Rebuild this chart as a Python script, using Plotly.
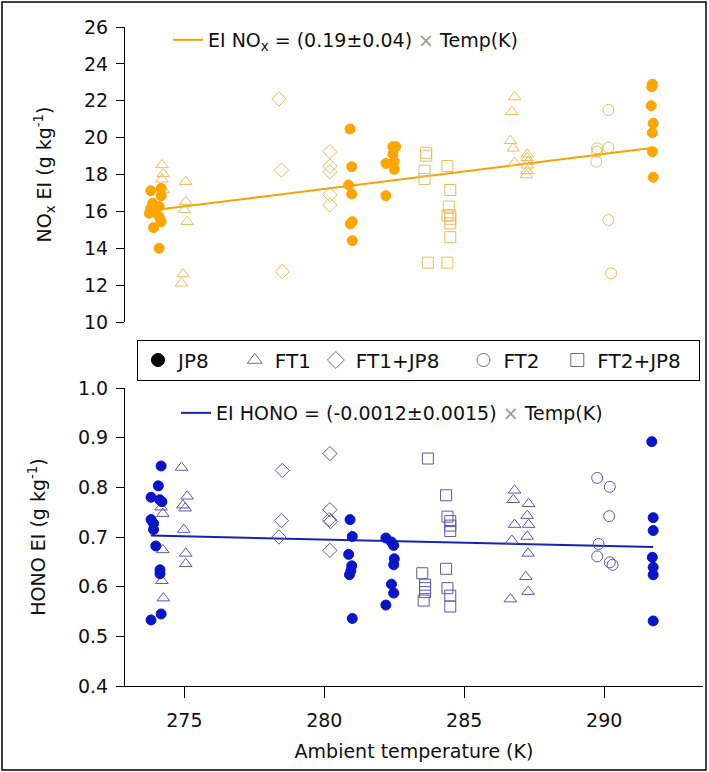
import plotly.graph_objects as go

# ---------------- data ----------------
# NOx EI (g/kg) vs ambient temperature (K)
nox_jp8_t = [273.80, 274.17, 274.17, 273.87, 274.10, 273.80, 273.75, 273.93, 274.10, 274.17, 273.90, 274.10,
             280.92, 280.98, 280.87, 280.98, 280.93, 281.00, 281.00,
             282.45, 282.55, 282.45, 282.50, 282.20, 282.50, 282.20,
             291.72, 291.70, 291.68, 291.75, 291.72, 291.72, 291.75]
nox_jp8_v = [17.12, 17.25, 16.85, 16.44, 16.26, 16.17, 15.90, 15.98, 15.71, 15.44, 15.12, 14.00,
             20.47, 18.42, 17.43, 16.94, 15.32, 15.44, 14.41,
             19.51, 19.51, 19.11, 18.70, 18.60, 18.28, 16.85,
             22.90, 22.76, 21.73, 20.78, 20.27, 19.24, 17.85]
nox_ft1_t = [274.20, 274.25, 274.20, 274.25, 275.05, 275.05, 275.00, 275.10, 274.95, 274.90,
             286.80, 286.70, 286.65, 286.75, 286.80, 287.25, 287.25, 287.28, 287.25, 287.25, 287.22]
nox_ft1_v = [18.52, 18.03, 17.74, 17.16, 17.61, 16.53, 16.08, 15.44, 12.60, 12.10,
             22.20, 21.40, 19.83, 19.42, 18.64, 19.10, 18.90, 18.70, 18.50, 18.20, 17.97]
nox_ft1jp8_t = [278.38, 278.47, 278.50, 280.20, 280.20, 280.20, 280.20, 280.20]
nox_ft1jp8_v = [22.10, 18.24, 12.73, 19.24, 18.45, 18.15, 16.90, 16.35]
nox_ft2_t = [289.75, 289.75, 289.72, 290.15, 290.15, 290.15, 290.25]
nox_ft2_v = [19.42, 19.24, 18.70, 21.50, 19.47, 15.53, 12.64]
nox_ft2jp8_t = [283.64, 283.64, 283.58, 283.58, 283.70,
                284.40, 284.50, 284.45, 284.40, 284.50, 284.50, 284.50, 284.50, 284.40]
nox_ft2jp8_v = [19.18, 19.02, 18.21, 17.76, 13.22,
                18.46, 17.16, 16.26, 15.77, 15.80, 15.60, 15.35, 14.60, 13.22]

# HONO EI (g/kg) vs ambient temperature (K)
hono_jp8_t = [274.17, 274.07, 273.81, 274.12, 274.20, 273.81, 273.90, 273.90, 273.98, 274.13, 274.13, 274.17, 273.81,
              280.92, 281.00, 280.87, 280.98, 280.95, 280.90, 281.00,
              282.20, 282.40, 282.48, 282.50, 282.48, 282.40, 282.48, 282.20,
              291.70, 291.75, 291.75, 291.72, 291.75, 291.75, 291.75]
hono_jp8_v = [0.843, 0.803, 0.780, 0.775, 0.771, 0.735, 0.727, 0.715, 0.682, 0.634, 0.626, 0.545, 0.533,
              0.735, 0.701, 0.665, 0.642, 0.632, 0.624, 0.536,
              0.698, 0.690, 0.683, 0.656, 0.644, 0.605, 0.587, 0.563,
              0.892, 0.739, 0.713, 0.659, 0.639, 0.624, 0.531]
hono_ft1_t = [274.90, 275.10, 274.95, 275.03, 274.17, 274.23, 274.98, 274.23, 275.05, 275.05, 274.20, 274.25,
              286.80, 286.75, 287.30, 287.25, 286.80, 287.30, 286.70, 287.25, 287.28, 287.20, 287.28, 286.65]
hono_ft1_v = [0.840, 0.782, 0.764, 0.758, 0.760, 0.747, 0.715, 0.674, 0.667, 0.646, 0.612, 0.577,
              0.794, 0.775, 0.767, 0.743, 0.725, 0.725, 0.693, 0.701, 0.667, 0.620, 0.590, 0.575]
hono_ft1jp8_t = [278.50, 278.47, 278.38, 280.20, 280.20, 280.18, 280.22, 280.20]
hono_ft1jp8_v = [0.834, 0.733, 0.700, 0.868, 0.755, 0.735, 0.731, 0.673]
hono_ft2_t = [289.75, 290.20, 290.18, 289.80, 289.75, 290.20, 290.30]
hono_ft2_v = [0.819, 0.801, 0.742, 0.686, 0.661, 0.649, 0.644]
hono_ft2jp8_t = [283.70, 283.50, 283.60, 283.60, 283.60, 283.55,
                 284.35, 284.40, 284.50, 284.50, 284.50, 284.35, 284.40, 284.50, 284.50]
hono_ft2jp8_v = [0.858, 0.627, 0.604, 0.597, 0.589, 0.572,
                 0.784, 0.741, 0.732, 0.723, 0.712, 0.636, 0.597, 0.582, 0.560]

# linear fits (slope, intercept) and the temperature span they cover
nox_fit = (0.19, -35.98)
hono_fit = (-0.0013, 1.0589)
fit_span = [273.8, 291.75]

fuel_names = ["JP8", "FT1", "FT1+JP8", "FT2", "FT2+JP8"]
x_ticks = [275, 280, 285, 290]
nox_ticks = [10, 12, 14, 16, 18, 20, 22, 24, 26]
hono_ticks = [0.4, 0.5, 0.6, 0.7, 0.8, 0.9, 1.0]

# ---------------- style ----------------
FONT = "DejaVu Sans"
FS = 19
ORANGE = "#FFA500"
ORANGE_OPEN = "#E9BE5C"
ORANGE_LINE = "#F5A300"
BLUE = "#0A14C8"
BLUE_OPEN = "#5A5AB4"
BLUE_LINE = "#1A22B0"
symbols = ["circle", "triangle-up-open", "diamond-open", "circle-open", "square-open"]
NB = "\u00a0"
legend_pad = [3, 0, 3, 2, 2]   # extra non-breaking spaces after each legend label (spacing only)

W, H = 709, 772
ML, MR, MT, MB = 125, 6, 27, 86
PW, PH = W - ML - MR, H - MT - MB


def py(pix):  # pixel row -> paper y
    return (H - MB - pix) / PH


def px(pix):  # pixel col -> paper x
    return (pix - ML) / PW


fig = go.Figure()

nox_sets = [(nox_jp8_t, nox_jp8_v), (nox_ft1_t, nox_ft1_v), (nox_ft1jp8_t, nox_ft1jp8_v),
            (nox_ft2_t, nox_ft2_v), (nox_ft2jp8_t, nox_ft2jp8_v)]
hono_sets = [(hono_jp8_t, hono_jp8_v), (hono_ft1_t, hono_ft1_v), (hono_ft1jp8_t, hono_ft1jp8_v),
             (hono_ft2_t, hono_ft2_v), (hono_ft2jp8_t, hono_ft2jp8_v)]

# regression lines (drawn under markers)
fig.add_trace(go.Scatter(
    x=fit_span, y=[nox_fit[0] * t + nox_fit[1] for t in fit_span], mode="lines",
    line=dict(color=ORANGE_LINE, width=2), xaxis="x", yaxis="y", legend="legend2",
    name="EI NO<sub>x</sub> = (0.19±0.04) <span style='color:#9a9a9a'>×</span> Temp(K)"))
fig.add_trace(go.Scatter(
    x=fit_span, y=[hono_fit[0] * t + hono_fit[1] for t in fit_span], mode="lines",
    line=dict(color=BLUE_LINE, width=2), xaxis="x2", yaxis="y2", legend="legend3",
    name="EI HONO = (-0.0012±0.0015) <span style='color:#9a9a9a'>×</span> Temp(K)"))

# draw open symbols first, filled JP8 on top
order = [1, 2, 3, 4, 0]
for i in order:
    t, v = nox_sets[i]
    filled = i == 0
    fig.add_trace(go.Scatter(
        x=t, y=v, mode="markers", xaxis="x", yaxis="y", showlegend=False, name=fuel_names[i],
        marker=dict(symbol=symbols[i], size=10 if filled else 11,
                    color=ORANGE if filled else ORANGE_OPEN,
                    line=dict(width=1, color=ORANGE if filled else ORANGE_OPEN))))
for i in order:
    t, v = hono_sets[i]
    filled = i == 0
    fig.add_trace(go.Scatter(
        x=t, y=v, mode="markers", xaxis="x2", yaxis="y2", showlegend=False, name=fuel_names[i],
        marker=dict(symbol=symbols[i], size=10 if filled else 11,
                    color=BLUE if filled else BLUE_OPEN,
                    line=dict(width=1, color=BLUE if filled else BLUE_OPEN))))

# legend-only entries for fuel symbols
for i, nm in enumerate(fuel_names):
    fig.add_trace(go.Scatter(
        x=[None], y=[None], mode="markers", name=nm + NB * legend_pad[i],
        xaxis="x2", yaxis="y2", legend="legend",
        marker=dict(symbol=symbols[i], size=13, color="black" if i == 0 else "#707070",
                    line=dict(width=1, color="black" if i == 0 else "#707070"))))

axis_common = dict(showgrid=False, zeroline=False, linecolor="black", linewidth=1,
                   automargin=False,
                   tickcolor="black", tickfont=dict(family=FONT, size=FS, color="#111"))
xr = [272.88, 293.53]

fig.update_layout(
    width=W, height=H, margin=dict(l=ML, r=MR, t=MT, b=MB, autoexpand=False),
    paper_bgcolor="white", plot_bgcolor="white",
    font=dict(family=FONT, size=FS, color="#111"),
    xaxis=dict(domain=[0, 1], anchor="y", range=xr, showline=False, showticklabels=False,
               ticks="", showgrid=False, zeroline=False, matches="x2", automargin=False),
    yaxis=dict(domain=[py(322), 1], anchor="x", range=[10, 26], tickvals=nox_ticks,
               ticks="outside", ticklen=8, showline=True, ticklabelstandoff=4,
               title=dict(text="NO<sub>x</sub> EI (g kg<sup>-1</sup>)",
                          font=dict(family=FONT, size=FS), standoff=27),
               **axis_common),
    xaxis2=dict(domain=[0, 1], anchor="y2", range=xr, tickvals=x_ticks, ticks="outside",
                ticklen=11, showline=True, ticklabelstandoff=6,
                title=dict(text="Ambient temperature (K)", font=dict(family=FONT, size=FS),
                           standoff=14),
                **axis_common),
    yaxis2=dict(domain=[0, py(388)], anchor="x2", range=[0.4, 1.0], tickvals=hono_ticks,
                tickformat=".1f", ticks="outside", ticklen=8, showline=True, ticklabelstandoff=4,
                title=dict(text="HONO EI (g kg<sup>-1</sup>)",
                           font=dict(family=FONT, size=FS), standoff=27),
                **axis_common),
    legend=dict(orientation="h", x=px(137), xanchor="left", y=py(360), yanchor="middle",
                bordercolor="black", borderwidth=1, bgcolor="white",
                font=dict(family=FONT, size=20, color="#111"), itemsizing="trace"),
    legend2=dict(x=px(168), xanchor="left", y=py(40), yanchor="middle",
                 bgcolor="rgba(0,0,0,0)", borderwidth=0,
                 font=dict(family=FONT, size=FS, color="#111")),
    legend3=dict(x=px(176), xanchor="left", y=py(413), yanchor="middle",
                 bgcolor="rgba(0,0,0,0)", borderwidth=0,
                 font=dict(family=FONT, size=FS, color="#111")),
    shapes=[dict(type="rect", xref="paper", yref="paper",
                 x0=px(2), x1=px(706), y0=py(770), y1=py(2),
                 line=dict(color="black", width=1.5), fillcolor="rgba(0,0,0,0)", layer="below")],
)

fig.write_html("out.html", config={"displayModeBar": False},
               post_script="document.body.style.margin='0';document.body.style.overflow='hidden';")
